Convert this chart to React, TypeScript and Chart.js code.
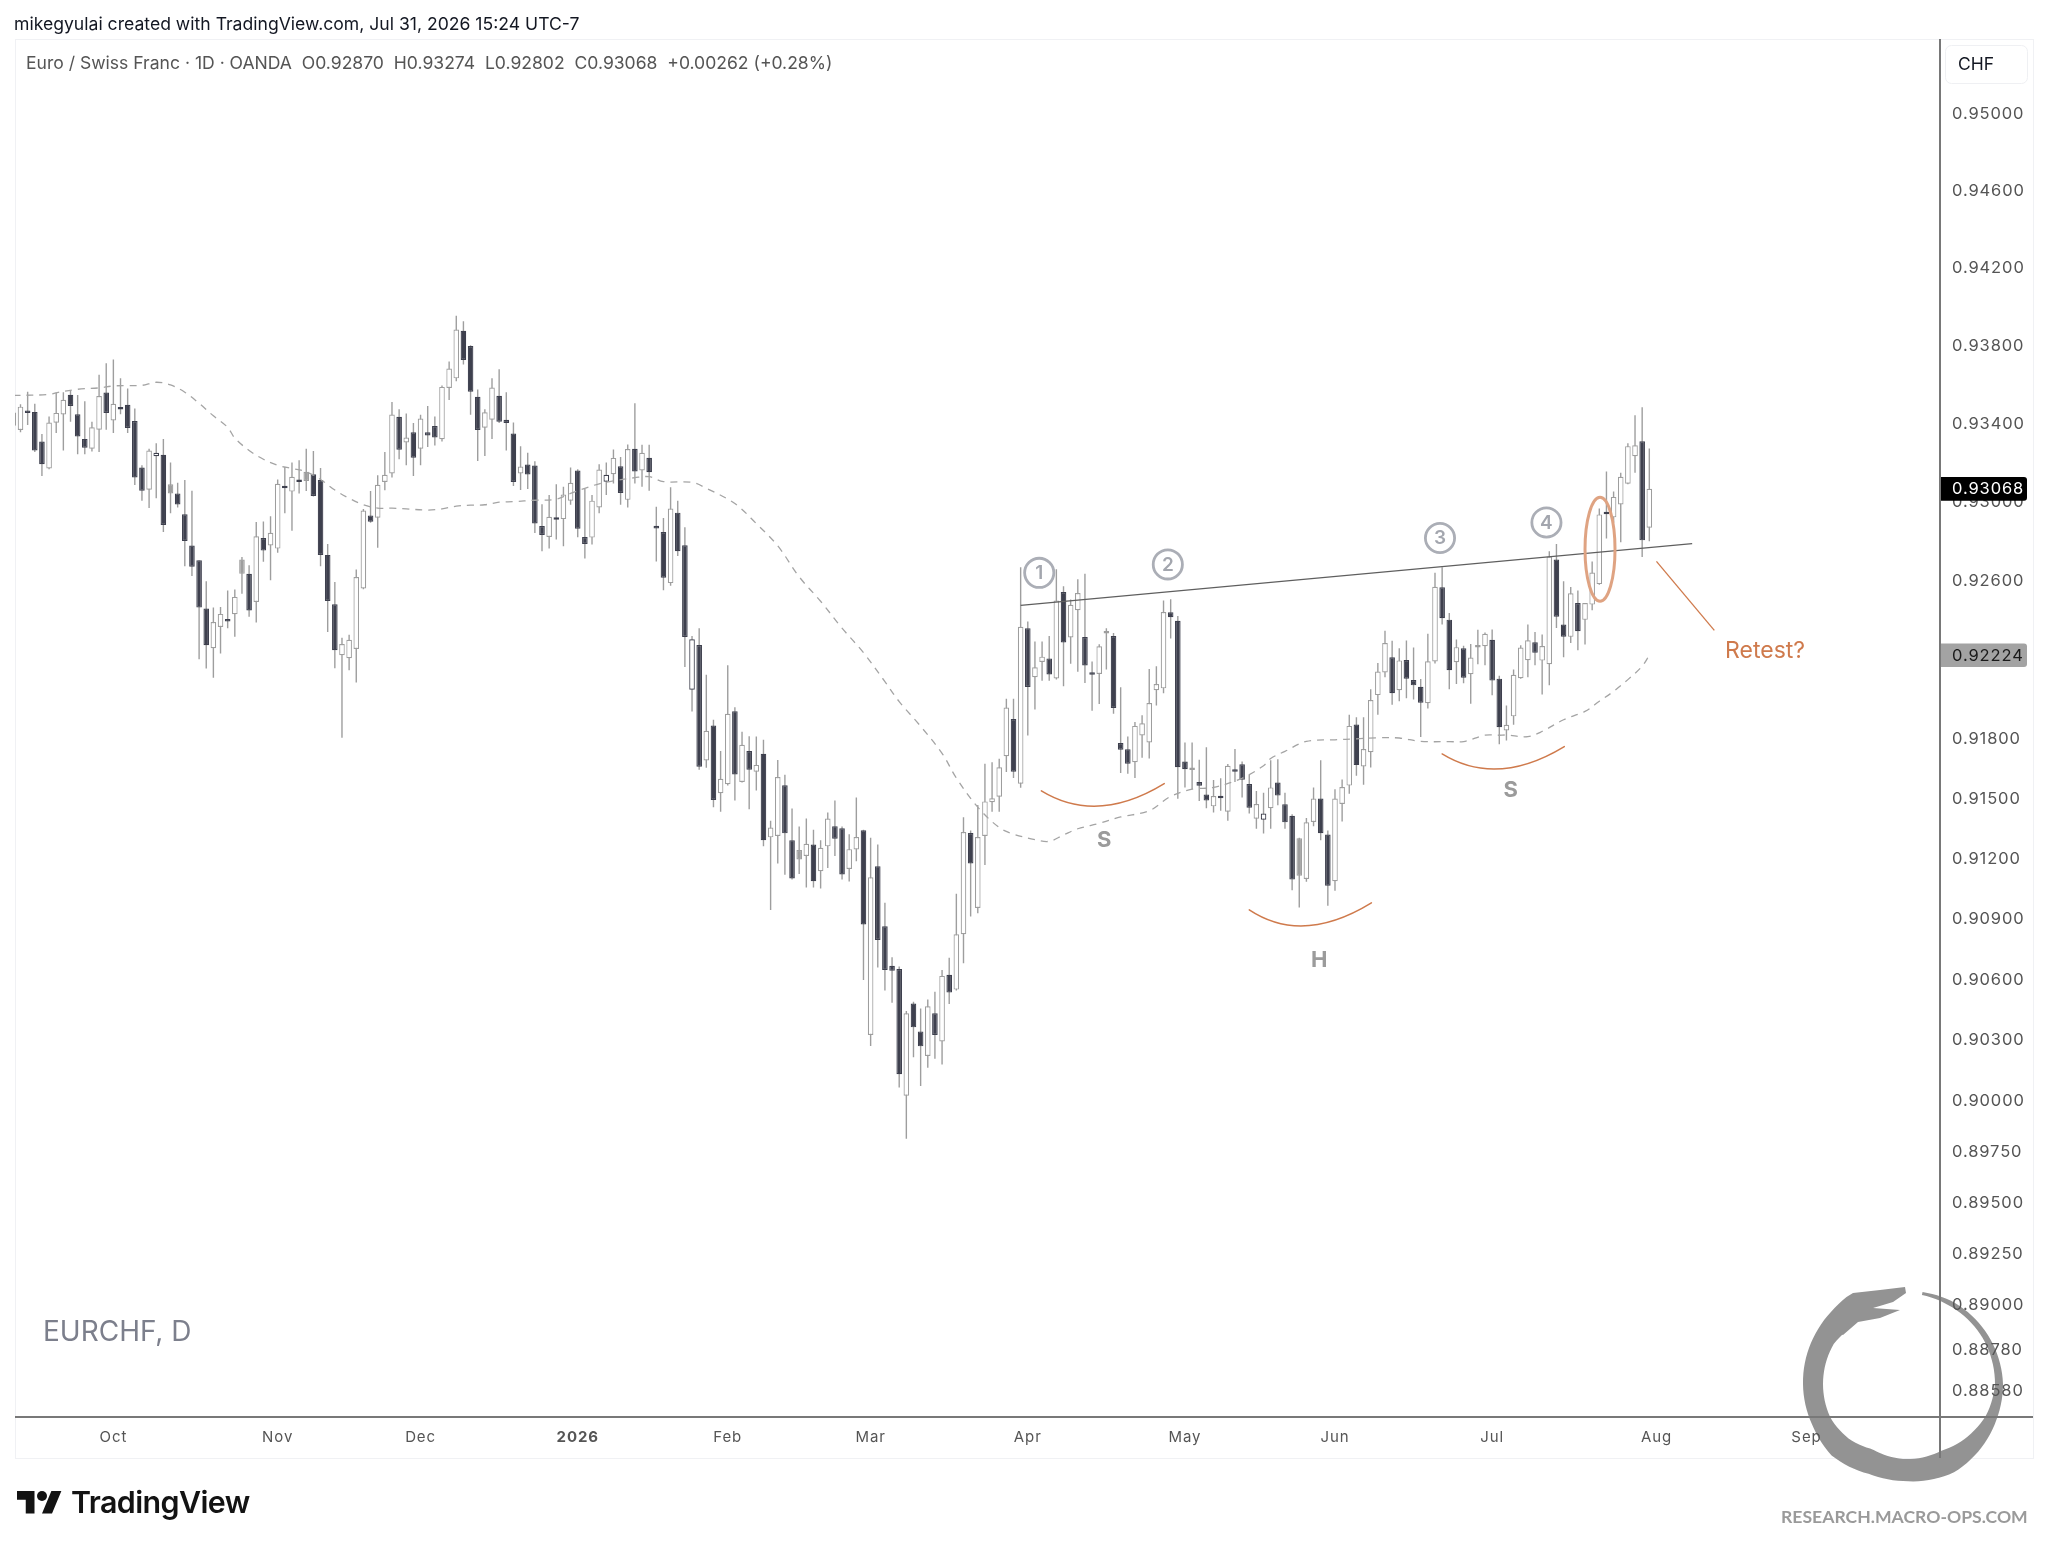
import React, { useEffect, useRef } from "react";
import { Chart, registerables } from "chart.js";

Chart.register(...registerables);

// Daily EUR/CHF candles, prices in 1e-5 CHF, first candle has bar index -1
const firstBar = -1;
const opens = [93390,93369,93461,93461,93310,93172,93406,93448,93549,93449,93323,93273,93370,93560,93417,93480,93498,93414,93177,93064,93234,93242,93045,93045,92939,92780,92705,92460,92259,92367,92399,92431,92636,92636,92493,92818,92780,92764,93084,93054,93113,93108,93143,93113,92732,92482,92224,92209,92256,92562,92933,92921,93103,93146,93436,93305,93357,93273,93357,93389,93321,93584,93633,93877,93799,93539,93380,93421,93544,93421,93350,93146,93192,93187,92879,92823,92916,92914,93008,93162,92823,92820,92973,93104,93143,93183,93012,93273,93162,93227,92880,92848,92589,92947,92781,92050,92276,91694,91870,91530,91575,91942,91586,91742,91638,91728,91309,91316,91570,91295,91198,91216,91273,91140,91264,91365,91354,91151,91248,91345,90326,91165,90865,90669,90653,90026,90482,90344,90222,90434,90294,90624,90551,90826,91331,90957,91316,91485,91512,91715,91902,91577,92361,92113,92190,92208,92107,92544,92314,92452,92316,92132,92129,92334,92321,91782,91751,91685,91820,91785,92048,92057,92442,92398,91689,91646,91586,91523,91464,91511,91437,91642,91675,91576,91402,91397,91455,91583,91475,91417,91117,91101,91386,91503,91323,91090,91476,91568,91875,91664,91736,92023,92137,92214,92048,92200,92099,92065,91982,92193,92568,92404,92189,92259,92128,92263,92270,92302,92106,91845,91916,92108,92199,92290,92197,92179,92709,92379,92317,92488,92403,92480,92584,92943,92923,92988,93094,93234,93311,92870];
const highs = [93466,93500,93564,93503,93348,93438,93560,93562,93572,93547,93515,93411,93651,93710,93730,93634,93581,93478,93188,93273,93301,93323,93202,93099,93113,93059,92705,92599,92465,92468,92552,92557,92721,92679,92899,92902,92928,93116,93180,93202,93214,93273,93261,93175,92788,92594,92313,92327,92658,92966,93057,93138,93256,93512,93475,93453,93404,93446,93491,93438,93596,93719,93954,93926,93803,93576,93475,93634,93680,93562,93407,93286,93252,93209,92990,93037,93091,93079,93177,93168,93067,93037,93194,93202,93269,93231,93295,93505,93293,93293,92977,92920,93076,93008,92873,92321,92361,92125,91899,91742,92174,91962,91838,91816,91814,91798,91392,91696,91622,91453,91363,91403,91347,91295,91433,91494,91363,91325,91509,91347,91307,91273,90982,90711,90666,90445,90491,90457,90502,90540,90648,90709,91027,91410,91343,91471,91678,91685,91703,92005,92005,92670,92395,92294,92294,92321,92659,92573,92506,92609,92636,92192,92280,92361,92337,92062,91814,91888,91922,92155,92169,92501,92507,92422,91785,91785,91698,91761,91596,91605,91677,91752,91689,91623,91541,91532,91695,91700,91532,91424,91307,91406,91559,91695,91343,91550,91599,91924,91911,91911,92052,92185,92348,92297,92259,92299,92263,92104,92332,92642,92669,92438,92303,92272,92281,92353,92339,92354,92121,91970,92152,92275,92379,92342,92329,92751,92788,92598,92569,92551,92488,92699,92968,93157,93054,93150,93301,93444,93485,93274];
const lows = [93382,93357,93394,93256,93133,93168,93353,93264,93411,93244,93244,93259,93256,93370,93353,93449,93353,93088,93007,92970,93020,92849,92944,92973,92674,92625,92204,92157,92111,92233,92360,92317,92535,92419,92389,92697,92603,92743,92944,92855,93045,93057,93029,92675,92342,92158,91808,92148,92086,92558,92895,92768,93061,93126,93219,93188,93133,93188,93281,93289,93310,93522,93618,93704,93446,93210,93236,93323,93404,93264,93082,93062,93067,92844,92751,92764,92810,92776,92987,92822,92714,92785,92944,93037,93096,92987,92973,93096,93079,93059,92699,92553,92576,92727,92165,91940,91647,91658,91460,91437,91568,91494,91584,91449,91543,91264,90946,91178,91122,91099,91126,91059,91059,91054,91156,91216,91099,91088,91189,90599,90272,90660,90547,90486,90067,89815,90216,90074,90164,90209,90180,90479,90547,90682,90914,90930,91171,91437,91437,91636,91606,91557,91820,91951,92095,92095,92102,92068,92181,92141,92084,91944,91978,92152,91929,91631,91627,91606,91708,91704,91971,92032,92308,91502,91559,91550,91491,91455,91433,91442,91392,91586,91509,91428,91352,91328,91352,91469,91352,91045,90959,91087,91365,91294,90968,91042,91388,91527,91617,91572,91659,91924,92113,91974,91992,92007,92001,91812,91956,92182,92380,92052,92079,92083,91980,92178,92173,92022,91776,91795,91874,92105,92113,92174,92026,92073,92362,92214,92286,92249,92278,92451,92581,92815,92896,92796,93091,93150,92721,92802];
const closes = [93458,93488,93456,93264,93194,93407,93456,93523,93491,93335,93278,93382,93542,93456,93503,93473,93379,93126,93059,93264,93252,92884,93091,92988,92803,92672,92465,92275,92392,92433,92394,92519,92709,92450,92827,92754,92845,93094,93071,93130,93103,93155,93032,92732,92498,92249,92281,92302,92620,92958,92901,93089,93140,93448,93268,93330,93227,93427,93340,93330,93589,93683,93884,93727,93564,93369,93459,93586,93411,93404,93103,93182,93141,92892,92833,92926,92911,93039,93099,92865,92788,93008,93167,93140,93226,93047,93271,93157,93252,93153,92866,92616,92968,92751,92316,92305,91663,91843,91496,91602,91929,91624,91773,91647,91672,91295,91358,91611,91329,91104,91246,91277,91090,91257,91403,91302,91124,91250,91311,90874,91110,90797,90648,90644,90132,90434,90364,90270,90468,90326,90619,90536,90826,91336,91178,91311,91489,91505,91660,91960,91638,92368,92064,92163,92217,92127,92501,92289,92479,92539,92172,92125,92269,92339,91958,91748,91678,91868,91881,91983,92079,92443,92416,91660,91650,91653,91567,91493,91516,91505,91668,91637,91597,91457,91476,91428,91559,91518,91384,91098,91305,91384,91503,91330,91067,91503,91561,91868,91671,91752,91998,92142,92286,92032,92198,92106,92072,91985,92194,92570,92411,92148,92265,92111,92212,92268,92332,92096,91861,91874,92125,92263,92300,92236,92271,92724,92419,92318,92537,92345,92488,92643,92938,92939,93027,93130,93286,93290,92806,93068];

// Candles whose body is painted differently in the reference
const outlinedUpBars = [19, 82, 94, 174];
const greyBodyBars = [21, 31, 40, 109, 179];

// Dashed moving average, read at sparse bars
const maBars = [-1,4,5,8,11,13,15,17,19,21,23,25,27,29,30,32,34,36,38,40,42,44,46,48,50,52,54,57,59,61,63,65,67,69,72,75,77,79,81,83,86,88,90,94,96,100,103,106,109,112,115,118,121,123,126,129,131,134,137,139,142,144,146,148,151,154,158,161,164,167,171,174,175,177,180,184,187,190,193,196,200,202,205,207,208,211,213,216,219,221,223,225,227,228];
const maValues = [93545,93550,93559,93577,93584,93594,93596,93597,93613,93599,93562,93505,93441,93382,93327,93264,93219,93188,93172,93155,93116,93062,93020,92987,92970,92970,92966,92960,92966,92980,92985,92987,93000,93003,93010,93015,93045,93071,93094,93109,93125,93130,93105,93101,93071,92993,92891,92778,92621,92497,92361,92237,92091,91990,91866,91730,91606,91460,91358,91325,91298,91289,91321,91352,91379,91411,91442,91514,91550,91559,91605,91668,91704,91740,91790,91798,91803,91808,91807,91790,91789,91789,91821,91821,91822,91814,91840,91899,91941,91992,92042,92101,92169,92224];

// Drawn annotations: [bar, price in 1e-5]
const neckline = [[140, 92476], [234, 92789]];
const retestLeader = [[229, 92699], [237.1, 92350]];
const smileArcs = [
  [[142.9, 91542], [151.1, 91466], [160.1, 91578]],
  [[172, 90947], [180, 90868], [189.1, 90982]],
  [[199, 91727], [207.1, 91652], [216.1, 91764]],
];
const breakoutEllipse = { barFrom: 219, barTo: 223.2, priceHigh: 93025, priceLow: 92497 };
const touchLabels = [
  { text: "1", bar: 142.6, price: 92641 },
  { text: "2", bar: 160.6, price: 92684 },
  { text: "3", bar: 198.7, price: 92818 },
  { text: "4", bar: 213.6, price: 92897 },
];
const patternLabels = [
  { text: "S", bar: 151.7, price: 91293 },
  { text: "H", bar: 181.8, price: 90697 },
  { text: "S", bar: 208.6, price: 91546 },
];
const retestLabel = { text: "Retest?", bar: 244.2, price: 92244 };

const priceTicks = [0.95,0.946,0.942,0.938,0.934,0.93,0.926,0.922,0.918,0.915,0.912,0.909,0.906,0.903,0.9,0.8975,0.895,0.8925,0.89,0.8878,0.8858];
const timeTickBars = [13, 36, 56, 78, 99, 119, 141, 163, 184, 206, 229, 250];
const timeTickLabels = ["Oct","Nov","Dec","2026","Feb","Mar","Apr","May","Jun","Jul","Aug","Sep"];

const lastClose = 0.93068;
const lastMa = 0.92224;

const AXIS = "#787878";
const DARK = "#3e404e";
const WICK = "#9e9e9e";
const ORANGE = "#cf7a4c";
const FONT = "Inter, 'Noto Sans', sans-serif";

const P = (v: number) => v / 1e5;
const barOf = (i: number) => firstBar + i;

function ensoPath(ctx: CanvasRenderingContext2D) {
  const cx = 1903, cy = 1384;
  const outer: [number, number][] = [[12,94],[30,96],[60,98],[90,100],[109,100],[130,101],[150,102],[180,97],[200,96],[225,101],[245,99.5],[270,100],[300,101],[316,102],[329,104]];
  const inner: [number, number][] = [[12,91],[30,91],[60,92],[90,92],[110,89],[130,83],[150,77],[180,75],[205,72],[225,77],[245,80],[270,80],[300,80],[310,78]];
  const lerp = (t: [number, number][], a: number) => {
    for (let k = 0; k < t.length - 1; k++) {
      if (a >= t[k][0] && a <= t[k + 1][0]) {
        const f = (a - t[k][0]) / (t[k + 1][0] - t[k][0]);
        return t[k][1] + f * (t[k + 1][1] - t[k][1]);
      }
    }
    return t[t.length - 1][1];
  };
  const pt = (a: number, r: number) => {
    const th = (a * Math.PI) / 180;
    return [cx + r * Math.sin(th), cy - r * Math.cos(th)];
  };
  ctx.beginPath();
  for (let a = 12; a <= 329; a += 3) {
    const [x, y] = pt(a, lerp(outer, a));
    if (a === 12) ctx.moveTo(x, y);
    else ctx.lineTo(x, y);
  }
  const head = [[1853,1293],[1880,1290],[1905,1287],[1906,1293],[1893,1302],[1873,1308],[1900,1310],[1880,1318],[1858,1322],[1843,1335]];
  head.forEach(([x, y]) => ctx.lineTo(x, y));
  for (let a = 309; a >= 12; a -= 3) {
    const [x, y] = pt(a, lerp(inner, a));
    ctx.lineTo(x, y);
  }
  ctx.closePath();
}

const overlayPlugin = {
  id: "overlay",
  beforeDraw(chart: any) {
    const c = chart.ctx;
    c.save();
    c.fillStyle = "#ffffff";
    c.fillRect(0, 0, chart.width, chart.height);
    c.strokeStyle = "#f0f1f4";
    c.lineWidth = 1;
    c.strokeRect(15.5, 39.5, 2018, 1419);
    ensoPath(c);
    c.fillStyle = "#939393";
    c.fill();
    c.restore();
    c.letterSpacing = "0.9px";
  },
  beforeDatasetsDraw(chart: any) {
    chart.ctx.letterSpacing = "0px";
  },
  afterDatasetsDraw(chart: any) {
    const c = chart.ctx;
    const X = (b: number) => chart.scales.x.getPixelForValue(b);
    const Y = (p: number) => chart.scales.y.getPixelForValue(P(p));
    c.save();
    c.lineCap = "round";
    c.strokeStyle = ORANGE;
    c.lineWidth = 1.5;
    smileArcs.forEach(([a, m, b]) => {
      const ax = X(a[0]), ay = Y(a[1]), mx = X(m[0]), my = Y(m[1]), bx = X(b[0]), by = Y(b[1]);
      c.beginPath();
      c.moveTo(ax, ay);
      c.quadraticCurveTo(2 * mx - (ax + bx) / 2, 2 * my - (ay + by) / 2, bx, by);
      c.stroke();
    });
    const ex0 = X(breakoutEllipse.barFrom), ex1 = X(breakoutEllipse.barTo);
    const ey0 = Y(breakoutEllipse.priceHigh), ey1 = Y(breakoutEllipse.priceLow);
    c.strokeStyle = "#dfa382";
    c.lineWidth = 3;
    c.beginPath();
    c.ellipse((ex0 + ex1) / 2, (ey0 + ey1) / 2, (ex1 - ex0) / 2, (ey1 - ey0) / 2, 0, 0, Math.PI * 2);
    c.stroke();
    c.textAlign = "center";
    c.textBaseline = "middle";
    touchLabels.forEach((t) => {
      c.strokeStyle = "#abaeb6";
      c.lineWidth = 2.8;
      c.beginPath();
      c.arc(X(t.bar), Y(t.price), 14.6, 0, Math.PI * 2);
      c.stroke();
      c.fillStyle = "#a3a6ae";
      c.font = `600 19px ${FONT}`;
      c.fillText(t.text, X(t.bar), Y(t.price) + 0.5);
    });
    c.fillStyle = "#9b9b9b";
    c.font = `700 22px ${FONT}`;
    patternLabels.forEach((t) => c.fillText(t.text, X(t.bar), Y(t.price)));
    c.fillStyle = ORANGE;
    c.font = `400 23px ${FONT}`;
    c.fillText(retestLabel.text, X(retestLabel.bar), Y(retestLabel.price));
    c.restore();
  },
  afterDraw(chart: any) {
    const c = chart.ctx;
    const { left, top } = chart.chartArea;
    c.save();
    c.fillStyle = AXIS;
    c.fillRect(1939, top, 2, 1458 - top);
    c.fillRect(left, 1416, 2033 - left, 2);
    const box = (value: number, bg: string, fg: string) => {
      const y = chart.scales.y.getPixelForValue(value);
      c.fillStyle = bg;
      c.beginPath();
      c.roundRect(1941, y - 11.8, 86, 23.6, [0, 3, 3, 0]);
      c.fill();
      c.fillStyle = fg;
      c.font = `400 16.5px ${FONT}`;
      c.textAlign = "left";
      c.textBaseline = "middle";
      c.letterSpacing = "0.9px";
      c.fillText(value.toFixed(5), 1952, y + 0.5);
      c.letterSpacing = "0px";
    };
    box(lastMa, "#a3a3a3", "#1a1a1a");
    box(lastClose, "#000000", "#ffffff");
    c.strokeStyle = "#eff0f3";
    c.lineWidth = 1;
    c.beginPath();
    c.roundRect(1945.5, 45.5, 82, 38, 6);
    c.stroke();
    c.fillStyle = "#131722";
    c.font = `400 17.5px ${FONT}`;
    c.textAlign = "left";
    c.textBaseline = "middle";
    c.fillText("CHF", 1958, 64.5);
    c.restore();
  },
};

const textStyle = (left: number, top: number, extra: React.CSSProperties): React.CSSProperties => ({
  position: "absolute",
  left,
  top,
  whiteSpace: "pre",
  fontFamily: FONT,
  lineHeight: 1,
  ...extra,
});

export default function App() {
  const ref = useRef<HTMLCanvasElement>(null);
  useEffect(() => {
    const wicks = highs.map((h, i) => ({ x: barOf(i), y: [P(lows[i]), P(h)] }));
    const bodies = opens.map((o, i) => ({ x: barOf(i), y: [P(o), P(closes[i])] }));
    const ma = maBars.map((b, i) => ({ x: b, y: P(maValues[i]) }));
    const isUp = (i: number) => closes[i] >= opens[i];
    const fill = (ctx: any) => {
      const i = ctx.dataIndex;
      if (greyBodyBars.includes(barOf(i))) return "#9e9e9e";
      return isUp(i) ? "#ffffff" : DARK;
    };
    const edge = (ctx: any) => {
      const i = ctx.dataIndex;
      if (greyBodyBars.includes(barOf(i))) return "#9e9e9e";
      if (outlinedUpBars.includes(barOf(i))) return DARK;
      return isUp(i) ? WICK : DARK;
    };
    const chart = new Chart(ref.current as HTMLCanvasElement, {
      type: "bar",
      data: {
        datasets: [
          { type: "line", data: neckline.map(([b, p]) => ({ x: b, y: P(p) })), borderColor: "#5f5f5f", borderWidth: 1.3, pointRadius: 0, order: 0 },
          { type: "line", data: retestLeader.map(([b, p]) => ({ x: b, y: P(p) })), borderColor: ORANGE, borderWidth: 1.3, pointRadius: 0, order: 0 },
          { type: "line", data: ma, borderColor: "#a4a4a4", borderWidth: 1.3, borderDash: [7, 6], pointRadius: 0, tension: 0.35, order: 1 },
          { data: bodies, barThickness: 5.6, backgroundColor: fill, borderColor: edge, borderWidth: 1.2, borderSkipped: false, minBarLength: 2.5, grouped: false, inflateAmount: 0, order: 2 },
          { data: wicks, barThickness: 1.4, backgroundColor: WICK, borderWidth: 0, grouped: false, inflateAmount: 0, order: 3 },
        ] as any,
      },
      options: {
        responsive: false,
        animation: false,
        devicePixelRatio: 1,
        layout: { padding: { left: 15, top: 39, right: 0, bottom: 0 } },
        plugins: { legend: { display: false }, tooltip: { enabled: false } },
        scales: {
          x: {
            type: "linear",
            min: -0.77,
            max: 268.69,
            offset: false,
            bounds: "data",
            grid: { display: false },
            border: { display: false },
            afterFit: (s: any) => { s.height = 129.5; },
            afterBuildTicks: (s: any) => { s.ticks = timeTickBars.map((v) => ({ value: v })); },
            ticks: {
              autoSkip: false,
              maxRotation: 0,
              padding: 3,
              color: "#555555",
              font: (ctx: any) => ({ family: FONT, size: 15, weight: ctx.tick && ctx.tick.value === 78 ? "700" : "400" }),
              callback: (v: any) => timeTickLabels[timeTickBars.indexOf(Number(v))] ?? "",
            },
          },
          y: {
            type: "logarithmic",
            position: "right",
            min: 0.88454,
            max: 0.95389,
            bounds: "data",
            grid: { display: false },
            border: { display: false },
            afterFit: (s: any) => { s.width = 108; },
            afterBuildTicks: (s: any) => { s.ticks = priceTicks.map((v) => ({ value: v })); },
            ticks: {
              autoSkip: false,
              padding: 4,
              color: "#555555",
              font: { family: FONT, size: 16.5 },
              callback: (v: any) => Number(v).toFixed(5),
            },
          },
        } as any,
      },
      plugins: [overlayPlugin as any],
    });
    return () => chart.destroy();
  }, []);
  return (
    <div style={{ position: "absolute", left: 0, top: 0, width: 2048, height: 1547, overflow: "hidden", background: "#fff" }}>
      <canvas ref={ref} width={2048} height={1547} style={{ display: "block", width: 2048, height: 1547 }} />
      <div style={textStyle(14, 15, { fontSize: 17.6, color: "#131722" })}>mikegyulai created with TradingView.com, Jul 31, 2026 15:24 UTC-7</div>
      <div style={textStyle(26, 54, { fontSize: 17.56, color: "#555555" })}>{"Euro / Swiss Franc · 1D · OANDA  O0.92870  H0.93274  L0.92802  C0.93068  +0.00262 (+0.28%)"}</div>
      <div style={textStyle(43, 1317, { fontSize: 28, color: "#7c7f8c" })}>EURCHF, D</div>
      <svg style={{ position: "absolute", left: 17, top: 1485.7 }} width={45} height={35} viewBox="0 0 36 28">
        <path d="M14 22H7V11H0V4h14v18zM28 22h-8l7.5-18h8L28 22z" fill="#131313" />
        <circle cx="20" cy="8" r="4" fill="#131313" />
      </svg>
      <div style={textStyle(71, 1487, { fontSize: 30.4, fontWeight: 600, color: "#131313", letterSpacing: -0.6 })}>TradingView</div>
      <div style={textStyle(1781, 1508, { fontSize: 17.6, fontWeight: 700, color: "#9a9a9a", fontFamily: "Lato, Inter, sans-serif" })}>RESEARCH.MACRO-OPS.COM</div>
    </div>
  );
}
